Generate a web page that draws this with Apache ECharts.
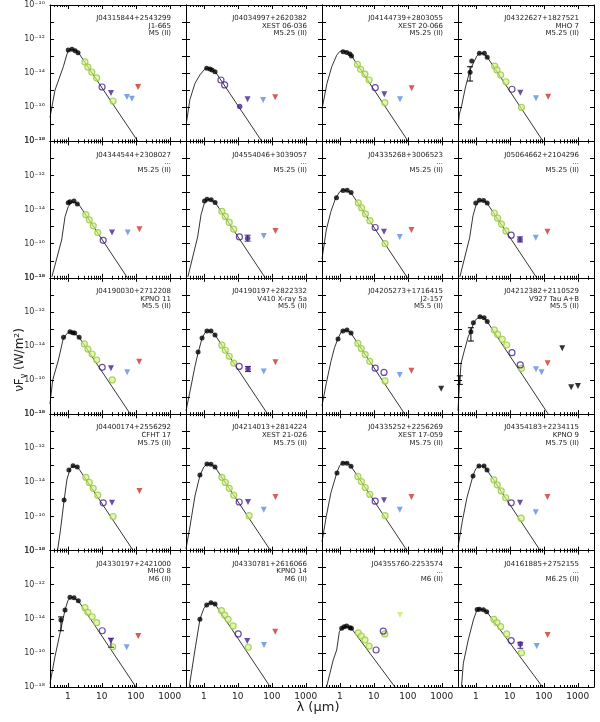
<!DOCTYPE html>
<html><head><meta charset="utf-8">
<script src="https://cdn.jsdelivr.net/npm/echarts@6/dist/echarts.min.js"></script>
<style>html,body{margin:0;padding:0;background:#fff}#c{width:600px;height:722px}</style>
</head><body><div id="c"></div>
<script>
// ---------- panel texts ----------
const srcName = ["J04315844+2543299","J04034997+2620382","J04144739+2803055","J04322627+1827521",
 "J04344544+2308027","J04554046+3039057","J04335268+3006523","J05064662+2104296",
 "J04190030+2712208","J04190197+2822332","J04205273+1716415","J04212382+2110529",
 "J04400174+2556292","J04214013+2814224","J04335252+2256269","J04354183+2234115",
 "J04330197+2421000","J04330781+2616066","J04355760-2253574","J04161885+2752155"];
const srcAlias = ["J1-665","XEST 06-036","XEST 20-066","MHO 7","...","...","...","...",
 "KPNO 11","V410 X-ray 5a","J2-157","V927 Tau A+B","CFHT 17","XEST 21-026","XEST 17-059","KPNO 9",
 "MHO 8","KPNO 14","...","..."];
const srcSpT = ["M5 (II)","M5.25 (II)","M5.25 (II)","M5.25 (II)","M5.25 (II)","M5.25 (II)","M5.25 (II)","M5.25 (II)",
 "M5.5 (II)","M5.5 (II)","M5.5 (II)","M5.5 (II)","M5.75 (II)","M5.75 (II)","M5.75 (II)","M5.75 (II)",
 "M6 (II)","M6 (II)","M6 (II)","M6.25 (II)"];

// ---------- axis ticks ----------
const xMajorTicks = [1, 10, 100, 1000];
const xMinorTicks = [0.4,0.5,0.6,0.7,0.8,0.9,2,3,4,5,6,7,8,9,20,30,40,50,60,70,80,90,200,300,400,500,600,700,800,900,2000,3000];
const yTicks = [1e-18,1e-17,1e-16,1e-15,1e-14,1e-13,1e-12,1e-11,1e-10];
const yLabelTicks = [1e-18,1e-16,1e-14,1e-12,1e-10];

// ---------- data: [wavelength (um), log10 nuFnu (W/m^2)] ----------
const modelLog = [
 [[0.3,-16.6],[0.42,-15.0],[0.74,-13.62],[0.93,-12.93],[1.04,-12.66],[1.3,-12.6],[1.7,-12.66],[2.1,-12.82],[120,-18.05]],
 [[0.31,-16.9],[0.39,-15.55],[0.55,-14.6],[0.77,-14.1],[1.08,-13.75],[1.3,-13.7],[1.7,-13.76],[2.2,-13.92],[55,-18.1]],
 [[0.3,-16.1],[0.42,-14.6],[0.58,-13.62],[0.81,-12.95],[1.0,-12.72],[1.3,-12.7],[1.7,-12.78],[2.2,-12.97],[120,-18.2]],
 [[0.31,-16.9],[0.33,-16.4],[0.38,-15.95],[0.5,-14.8],[0.68,-13.8],[1.07,-13.0],[1.3,-12.82],[1.7,-12.85],[2.2,-13.07],[96,-18.0]],
 [[0.34,-17.95],[0.66,-15.78],[0.83,-14.42],[1.03,-13.83],[1.3,-13.55],[1.7,-13.58],[2.2,-13.75],[57,-18.0]],
 [[0.34,-17.95],[0.66,-15.6],[0.83,-14.3],[1.03,-13.65],[1.3,-13.4],[1.7,-13.43],[2.2,-13.6],[64,-18.0]],
 [[0.3,-16.9],[0.4,-15.2],[0.55,-14.1],[0.75,-13.35],[1.0,-12.95],[1.3,-12.85],[1.7,-12.9],[2.2,-13.05],[98,-18.0]],
 [[0.34,-17.95],[0.66,-15.65],[0.83,-14.35],[1.03,-13.7],[1.3,-13.45],[1.7,-13.48],[2.2,-13.65],[67,-18.1]],
 [[0.3,-17.4],[0.36,-16.0],[0.53,-14.82],[0.74,-13.55],[1.0,-13.22],[1.16,-13.16],[1.5,-13.22],[2.16,-13.49],[75,-18.1]],
 [[0.3,-17.8],[0.4,-16.6],[0.55,-15.2],[0.68,-14.4],[0.89,-13.55],[1.1,-13.2],[1.3,-13.1],[1.7,-13.15],[2.14,-13.35],[76,-18.0]],
 [[0.3,-17.5],[0.4,-16.2],[0.55,-14.9],[0.7,-14.1],[0.89,-13.55],[1.1,-13.18],[1.3,-13.08],[1.7,-13.08],[2.14,-13.25],[82,-18.0]],
 [[0.3,-17.8],[0.33,-16.3],[0.37,-15.0],[0.45,-14.35],[0.6,-13.45],[0.72,-13.1],[0.85,-12.7],[1.0,-12.45],[1.33,-12.28],[1.76,-12.34],[2.17,-12.57],[136,-18.0]],
 [[0.5,-18.0],[0.6,-16.9],[0.78,-15.05],[0.95,-13.8],[1.2,-13.15],[1.45,-13.03],[1.9,-13.1],[2.2,-13.25],[84,-18.0]],
 [[0.3,-17.9],[0.4,-16.5],[0.55,-14.8],[0.77,-13.6],[1.0,-13.1],[1.24,-12.93],[1.63,-12.93],[2.14,-13.1],[92,-18.0]],
 [[0.3,-17.5],[0.4,-16.0],[0.55,-14.6],[0.83,-13.4],[1.0,-13.0],[1.24,-12.85],[1.63,-12.86],[2.14,-13.05],[95,-18.0]],
 [[0.3,-17.8],[0.4,-16.3],[0.55,-14.9],[0.83,-13.6],[1.0,-13.2],[1.24,-13.04],[1.75,-13.05],[2.14,-13.27],[85,-18.1]],
 [[0.3,-17.8],[0.42,-16.22],[0.59,-14.85],[0.83,-13.48],[1.0,-12.95],[1.2,-12.75],[1.5,-12.76],[2.04,-12.94],[118,-18.2]],
 [[0.36,-18.2],[0.39,-17.75],[0.55,-15.83],[0.77,-14.03],[1.0,-13.4],[1.3,-13.12],[1.63,-13.06],[2.14,-13.13],[98,-18.1]],
 [[0.41,-17.98],[0.64,-16.42],[0.81,-15.83],[0.97,-14.76],[1.14,-14.56],[1.6,-14.45],[2.2,-14.56],[42,-18.0]],
 [[0.38,-17.98],[0.43,-16.61],[0.6,-15.24],[0.85,-14.07],[1.05,-13.55],[1.3,-13.42],[1.7,-13.47],[2.09,-13.58],[92,-18.0]]
];
const opticalNirLog = [
 [[1.03,-12.64],[1.33,-12.6],[1.65,-12.68],[2.0,-12.8]],
 [[1.22,-13.71],[1.52,-13.75],[1.75,-13.81],[2.14,-13.91]],
 [[1.25,-12.74],[1.6,-12.78],[1.99,-12.87],[2.22,-12.99]],
 [[0.68,-13.95],[0.76,-13.28],[1.28,-12.83],[1.79,-12.83],[2.17,-13.07]],
 [[1.03,-13.6],[1.16,-13.54],[1.52,-13.5],[1.91,-13.67]],
 [[1.05,-13.5],[1.25,-13.4],[1.65,-13.42],[2.15,-13.58]],
 [[0.8,-13.3],[1.25,-12.88],[1.65,-12.86],[2.15,-13.0]],
 [[1.0,-13.62],[1.28,-13.45],[1.7,-13.47],[2.17,-13.62]],
 [[0.75,-13.49],[1.16,-13.16],[1.4,-13.22],[1.6,-13.24],[2.16,-13.49]],
 [[0.68,-14.35],[0.89,-13.53],[1.24,-13.12],[1.63,-13.12],[2.14,-13.35]],
 [[0.89,-13.59],[1.24,-13.12],[1.63,-13.06],[2.14,-13.24]],
 [[0.72,-13.16],[0.85,-12.63],[1.33,-12.28],[1.76,-12.34],[2.17,-12.57]],
 [[0.78,-15.03],[1.08,-13.27],[1.43,-13.03],[1.9,-13.09]],
 [[0.77,-13.57],[1.24,-12.92],[1.63,-12.93],[2.14,-13.1]],
 [[0.83,-13.45],[1.24,-12.87],[1.63,-12.87],[2.14,-13.05]],
 [[0.83,-13.63],[1.24,-13.04],[1.75,-13.04],[2.14,-13.27]],
 [[0.63,-14.07],[0.83,-13.48],[1.16,-12.74],[1.53,-12.76],[2.04,-12.94]],
 [[0.77,-14.03],[1.22,-13.19],[1.63,-13.06],[2.14,-13.13]],
 [[1.14,-14.56],[1.35,-14.47],[1.6,-14.42],[2.0,-14.52],[2.2,-14.56]],
 [[1.1,-13.45],[1.28,-13.44],[1.68,-13.47],[2.09,-13.58]]
];
// [wavelength, log low, log high]
const opticalErrLog = [[],[],[],[[0.68,-14.46,-13.62]],[],[],[],[],[],[],[],[[0.72,-13.71,-12.93],[0.34,-16.25,-15.75]],[],[],[],[],[[0.63,-14.7,-13.89]],[],[],[]];
const spitzerLog = [
 [[3.2,-13.34],[3.9,-13.64],[5.1,-13.93],[7.1,-14.28],[21.5,-15.63]],
 [],
 [[3.3,-13.48],[4.1,-13.77],[5.5,-14.05],[7.3,-14.4],[21.2,-15.73]],
 [[3.6,-13.58],[4.2,-13.81],[5.4,-14.1],[7.7,-14.5],[22,-16.0]],
 [[3.4,-14.3],[4.3,-14.6],[5.6,-14.95],[7.6,-15.35]],
 [[3.4,-14.1],[4.3,-14.4],[5.6,-14.75],[7.6,-15.15]],
 [[3.5,-13.6],[4.4,-13.9],[5.7,-14.25],[7.7,-14.65],[21.5,-16.0]],
 [[3.5,-14.2],[4.4,-14.5],[5.7,-14.85],[7.7,-15.25]],
 [[3.07,-13.88],[3.9,-14.18],[5.2,-14.47],[7.1,-14.82],[20.4,-15.99]],
 [[3.4,-13.95],[4.3,-14.25],[5.6,-14.6],[7.6,-15.0]],
 [[3.4,-13.85],[4.3,-14.15],[5.6,-14.5],[7.6,-14.9],[21.5,-16.05]],
 [[3.5,-13.06],[4.4,-13.32],[6.0,-13.61],[8.1,-13.94],[22,-15.31]],
 [[3.4,-13.7],[4.3,-14.0],[5.6,-14.35],[7.6,-14.75],[21.5,-16.0]],
 [[3.4,-13.7],[4.3,-14.0],[5.6,-14.35],[7.6,-14.75],[21.5,-15.95]],
 [[3.4,-13.65],[4.3,-13.95],[5.6,-14.3],[7.6,-14.7],[21.5,-15.95]],
 [[3.4,-13.85],[4.3,-14.15],[5.6,-14.5],[7.6,-14.9],[21.5,-16.1]],
 [[3.2,-13.35],[3.9,-13.62],[5.2,-13.88],[7.1,-14.23],[21,-15.64]],
 [[3.3,-13.52],[4.1,-13.78],[5.2,-14.03],[7.3,-14.42],[20.4,-15.67]],
 [[3.5,-14.82],[4.3,-15.01],[5.5,-15.24],[7.3,-15.6],[21,-14.89]],
 [[3.4,-14.03],[4.2,-14.23],[5.4,-14.46],[8.1,-14.89],[22,-15.99]]
];
const spitzerLimLog = [[],[],[],[],[],[],[],[],[],[],[],[],[],[],[],[],[],[],[[59,-13.78]],[]];
const wiseOpenLog = [
 [[10.2,-14.81]],[[3.2,-14.4],[4.1,-14.69]],[[11,-14.85]],[[11.6,-14.94]],
 [[11,-15.8]],[[11.2,-15.6]],[[11,-15.05]],[[11,-15.5]],
 [[10.3,-15.25]],[[11,-15.2]],[[11,-15.3],[20,-15.55]],[[11.6,-14.39],[20.4,-15.11]],
 [[11,-15.2]],[[11,-15.15]],[[11,-15.1]],[[11,-15.2]],
 [[10.3,-14.7]],[[10.3,-14.89]],[[11.7,-15.83],[19,-14.72]],[[11,-15.28]]
];
const wiseFilledLog = [[],[[11.4,-15.96]],[],[],[],[[19.5,-15.68]],[],[[20,-15.75]],[],[[20,-15.35]],[],[],[],[],[],[],[],[],[],[[20.4,-15.48]]];
const wiseErrLog = [[],[],[],[],[],[[19.5,-15.85,-15.5]],[],[[20,-15.9,-15.6]],[],[[20,-15.5,-15.2]],[],[],[],[],[],[],[[18.6,-15.67,-15.14]],[],[],[[20.4,-15.73,-15.38]]];
const wiseLimLog = [
 [[18.7,-15.16]],[[19.4,-15.53]],[[20.4,-15.24]],[[20.4,-15.14]],
 [[20,-15.35]],[],[[20,-15.3]],[],
 [[18.6,-15.31]],[],[],[],
 [[20,-15.2]],[[20,-15.15]],[[20,-15.05]],[[20,-15.2]],
 [[18.6,-15.3]],[[19,-15.3]],[],[]
];
const blueLimLog = [
 [[55,-15.4],[77,-15.5]],[[56,-15.57]],[[59,-15.53]],[[59,-15.47]],
 [[58,-15.35]],[[58,-15.55]],[[58,-15.6]],[[58,-15.65]],
 [[56,-15.54]],[[58,-15.5]],[[58,-15.7]],[[59,-15.37],[86,-15.54]],
 [],[[58,-15.6]],[[58,-15.6]],[[58,-15.75]],
 [[54,-15.67]],[[59,-15.54]],[],[[62,-15.6]]
];
const redLimLog = [
 [[117,-14.81]],[[126,-15.41]],[[130,-14.89]],[[135,-15.38]],
 [[128,-15.15]],[[128,-15.25]],[[128,-15.2]],[[128,-15.3]],
 [[126,-14.92]],[[128,-14.95]],[[128,-15.45]],[[130,-15.01]],
 [[128,-14.5]],[[128,-14.85]],[[128,-14.85]],[[128,-14.85]],
 [[118,-15.01]],[[126,-14.76]],[],[[130,-14.95]]
];
const submmLimLog = [[],[],[],[],[],[],[],[],[],[],[[960,-16.5]],[[350,-14.13],[640,-16.42],[1010,-16.35]],[],[],[],[],[],[],[],[]];

// ---------- build ----------
const L0 = 50, T0 = 5, PW = 136, PH = 136.4;
const FONT = '"DejaVu Sans", sans-serif';
const toLin = arr => arr.map(p => [p[0], Math.pow(10, p[1])]);
const toLinErr = arr => arr.map(p => [p[0], Math.pow(10, p[1]), Math.pow(10, p[2])]);
const supMap = {'-':'\u207B','0':'\u2070','1':'\u00B9','2':'\u00B2','3':'\u00B3','4':'\u2074','5':'\u2075','6':'\u2076','7':'\u2077','8':'\u2078','9':'\u2079'};
const yFmt = v => '10' + String(Math.round(Math.log10(v))).split('').map(ch => supMap[ch]).join('');

const grids = [], xAxes = [], yAxes = [], series = [], graphics = [];
const PURPLE = '#46208c', BLUE = '#5b8ee0', RED = '#c8372d';

function errSeries(xi, yi, data, color) {
  return {
    type: 'custom', xAxisIndex: xi, yAxisIndex: yi, data: toLinErr(data), silent: true, z: 4,
    encode: {x: 0, y: [1, 2]},
    renderItem: (params, api) => {
      const lo = api.coord([api.value(0), api.value(1)]);
      const hi = api.coord([api.value(0), api.value(2)]);
      const st = {stroke: color, lineWidth: 1};
      return {type: 'group', children: [
        {type: 'line', shape: {x1: lo[0], y1: lo[1], x2: hi[0], y2: hi[1]}, style: st},
        {type: 'line', shape: {x1: lo[0]-3, y1: lo[1], x2: lo[0]+3, y2: lo[1]}, style: st},
        {type: 'line', shape: {x1: hi[0]-3, y1: hi[1], x2: hi[0]+3, y2: hi[1]}, style: st}
      ]};
    }
  };
}

for (let i = 0; i < 20; i++) {
  const r = Math.floor(i / 4), c = i % 4;
  const left = L0 + c * PW, top = T0 + r * PH;
  grids.push({left: left, top: top, width: PW, height: PH});
  const xi = xAxes.length, yi = yAxes.length;
  const baseX = {type: 'log', logBase: 10, gridIndex: i, min: 0.3, max: 3000,
    splitLine: {show: false}, axisLabel: {show: false},
    axisLine: {show: true, onZero: false, lineStyle: {color: '#000', width: 1}}};
  const majT = {show: true, inside: true, length: 4, customValues: xMajorTicks, lineStyle: {color: '#000', width: 1}};
  const minT = {show: true, inside: true, length: 2, customValues: xMinorTicks, lineStyle: {color: '#000', width: 1}};
  xAxes.push(Object.assign({}, baseX, {position: 'bottom', axisTick: majT,
    axisLabel: r === 4 ? {show: true, customValues: xMajorTicks, formatter: v => String(Math.round(v)), fontSize: 9, margin: 5, color: '#222', fontFamily: FONT} : {show: false}}));
  xAxes.push(Object.assign({}, baseX, {position: 'bottom', axisLine: {show: false, onZero: false}, axisTick: minT}));
  xAxes.push(Object.assign({}, baseX, {position: 'top', axisTick: majT}));
  xAxes.push(Object.assign({}, baseX, {position: 'top', axisLine: {show: false, onZero: false}, axisTick: minT}));
  const baseY = {type: 'log', logBase: 10, gridIndex: i, min: 1e-18, max: 1e-10,
    splitLine: {show: false},
    axisLine: {show: true, onZero: false, lineStyle: {color: '#000', width: 1}},
    axisTick: {show: true, inside: true, length: 4, customValues: yTicks, lineStyle: {color: '#000', width: 1}}};
  yAxes.push(Object.assign({}, baseY, {position: 'left',
    axisLabel: c === 0 ? {show: true, customValues: yLabelTicks, formatter: yFmt, fontSize: 8, margin: 5, color: '#333', fontFamily: FONT} : {show: false}}));
  yAxes.push(Object.assign({}, baseY, {position: 'right', axisLabel: {show: false}}));

  const ax = {xAxisIndex: xi, yAxisIndex: yi, silent: true};
  series.push(Object.assign({type: 'line', data: toLin(modelLog[i]), symbol: 'none', z: 2,
    lineStyle: {color: '#000', width: 0.8}}, ax));
  if (spitzerLog[i].length) series.push(Object.assign({type: 'scatter', data: toLin(spitzerLog[i]), symbol: 'circle', symbolSize: 6, z: 3,
    itemStyle: {color: 'rgba(214,242,140,0.85)', borderColor: '#96c93d', borderWidth: 1.2}}, ax));
  if (spitzerLimLog[i].length) series.push(Object.assign({type: 'scatter', data: toLin(spitzerLimLog[i]), symbol: 'triangle', symbolRotate: 180, symbolSize: 6, z: 3,
    itemStyle: {color: '#bfee74'}}, ax));
  series.push(Object.assign({type: 'scatter', data: toLin(opticalNirLog[i]), symbol: 'circle', symbolSize: 5, z: 4,
    itemStyle: {color: '#000'}}, ax));
  if (opticalErrLog[i].length) series.push(errSeries(xi, yi, opticalErrLog[i], '#000'));
  if (wiseOpenLog[i].length) series.push(Object.assign({type: 'scatter', data: toLin(wiseOpenLog[i]), symbol: 'circle', symbolSize: 6, z: 4,
    itemStyle: {color: 'rgba(255,255,255,0)', borderColor: PURPLE, borderWidth: 1.2}}, ax));
  if (wiseFilledLog[i].length) series.push(Object.assign({type: 'scatter', data: toLin(wiseFilledLog[i]), symbol: 'circle', symbolSize: 5.5, z: 4,
    itemStyle: {color: PURPLE}}, ax));
  if (wiseErrLog[i].length) series.push(errSeries(xi, yi, wiseErrLog[i], PURPLE));
  if (wiseLimLog[i].length) series.push(Object.assign({type: 'scatter', data: toLin(wiseLimLog[i]), symbol: 'triangle', symbolRotate: 180, symbolSize: 6, z: 4,
    itemStyle: {color: PURPLE}}, ax));
  if (blueLimLog[i].length) series.push(Object.assign({type: 'scatter', data: toLin(blueLimLog[i]), symbol: 'triangle', symbolRotate: 180, symbolSize: 6, z: 4,
    itemStyle: {color: BLUE}}, ax));
  if (redLimLog[i].length) series.push(Object.assign({type: 'scatter', data: toLin(redLimLog[i]), symbol: 'triangle', symbolRotate: 180, symbolSize: 6, z: 4,
    itemStyle: {color: RED}}, ax));
  if (submmLimLog[i].length) series.push(Object.assign({type: 'scatter', data: toLin(submmLimLog[i]), symbol: 'triangle', symbolRotate: 180, symbolSize: 6, z: 4,
    itemStyle: {color: '#000'}}, ax));

  graphics.push({type: 'text', x: left + PW - 15, y: top + 9.5, silent: true, z: 10,
    style: {text: srcName[i] + '\n' + srcAlias[i] + '\n' + srcSpT[i], align: 'right', verticalAlign: 'top',
      font: '7px ' + FONT, lineHeight: 7.6, fill: '#222'}});
}

graphics.push({type: 'text', x: 318, y: 708, silent: true,
  style: {text: '\u03BB (\u03BCm)', align: 'center', verticalAlign: 'middle', font: '13px ' + FONT, fill: '#222'}});
graphics.push({type: 'text', x: 20, y: 360, rotation: Math.PI / 2, silent: true,
  style: {text: '{a|\u03BDF}{s|\u03BD}{a| (W/m\u00B2)}', align: 'center', verticalAlign: 'middle', fill: '#222',
    rich: {a: {font: '12px ' + FONT, lineHeight: 16, verticalAlign: 'middle'}, s: {font: '8px ' + FONT, lineHeight: 16, verticalAlign: 'bottom'}}}});

const chart = echarts.init(document.getElementById('c'), null, {renderer: 'canvas'});
chart.setOption({animation: false, backgroundColor: '#fff', grid: grids, xAxis: xAxes, yAxis: yAxes, series: series, graphic: graphics});
</script></body></html>
